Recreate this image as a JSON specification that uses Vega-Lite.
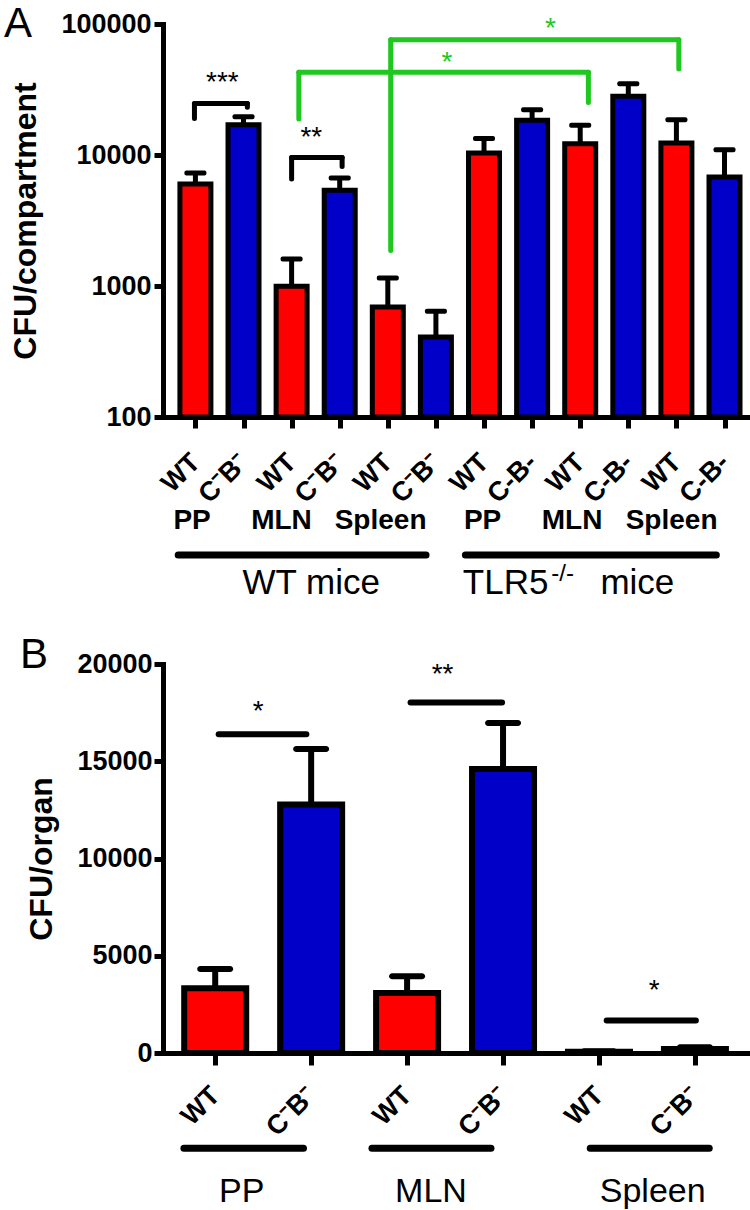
{
  "$schema": "https://vega.github.io/schema/vega-lite/v6.json",
  "background": "white",
  "padding": {"left": 3, "top": 3, "right": 0, "bottom": 0},
  "spacing": 33,
  "config": {
    "view": {"stroke": null},
    "font": "Liberation Sans",
    "axis": {
      "domainColor": "black", "domainWidth": 5, "domainCap": "square",
      "tickColor": "black", "tickWidth": 5,
      "labelColor": "black", "labelFont": "Liberation Sans", "labelFontWeight": "bold",
      "titleColor": "black", "titleFont": "Liberation Sans", "titleFontWeight": "bold", "titleFontSize": 32,
      "grid": false, "labelOverlap": false
    },
    "title": {"font": "Liberation Sans", "color": "black", "fontWeight": "normal", "fontSize": 42, "anchor": "start", "frame": "bounds"}
  },
  "datasets": {
    "barsA": [
      {"pos": 1, "mice": "WT", "organ": "PP", "strain": "WT", "cfu": 6000, "upper": 7300},
      {"pos": 2, "mice": "WT", "organ": "PP", "strain": "CB", "cfu": 17000, "upper": 19600},
      {"pos": 3, "mice": "WT", "organ": "MLN", "strain": "WT", "cfu": 996, "upper": 1607},
      {"pos": 4, "mice": "WT", "organ": "MLN", "strain": "CB", "cfu": 5380, "upper": 6670},
      {"pos": 5, "mice": "WT", "organ": "Spleen", "strain": "WT", "cfu": 692, "upper": 1151},
      {"pos": 6, "mice": "WT", "organ": "Spleen", "strain": "CB", "cfu": 408, "upper": 641},
      {"pos": 7, "mice": "TLR5", "organ": "PP", "strain": "WT", "cfu": 10350, "upper": 13340},
      {"pos": 8, "mice": "TLR5", "organ": "PP", "strain": "CB", "cfu": 18400, "upper": 22200},
      {"pos": 9, "mice": "TLR5", "organ": "MLN", "strain": "WT", "cfu": 12190, "upper": 16870},
      {"pos": 10, "mice": "TLR5", "organ": "MLN", "strain": "CB", "cfu": 28040, "upper": 35000},
      {"pos": 11, "mice": "TLR5", "organ": "Spleen", "strain": "WT", "cfu": 12360, "upper": 18620},
      {"pos": 12, "mice": "TLR5", "organ": "Spleen", "strain": "CB", "cfu": 6790, "upper": 10970}
    ],
    "bracketsA": [
      {"cmp": "within", "x1": 0.98, "x2": 2.08, "y": 24700, "yl": 19000, "yr": 23100},
      {"cmp": "within", "x1": 3.0, "x2": 4.05, "y": 9570, "yl": 6560, "yr": 8170},
      {"cmp": "between", "x1": 3.15, "x2": 9.17, "y": 42760, "yl": 18800, "yr": 25200},
      {"cmp": "between", "x1": 5.06, "x2": 11.05, "y": 75900, "yl": 1866, "yr": 45300}
    ],
    "starsA": [
      {"cmp": "within", "x": 1.56, "y": 30800, "label": "***"},
      {"cmp": "within", "x": 3.41, "y": 11720, "label": "**"},
      {"cmp": "between", "x": 6.23, "y": 44000, "label": "*"},
      {"cmp": "between", "x": 8.38, "y": 79100, "label": "*"}
    ],
    "organsA": [
      {"x": 0.93, "label": "PP"},
      {"x": 2.79, "label": "MLN"},
      {"x": 4.85, "label": "Spleen"},
      {"x": 6.97, "label": "PP"},
      {"x": 8.83, "label": "MLN"},
      {"x": 10.9, "label": "Spleen"}
    ],
    "miceA": [
      {"x1": 0.642, "x2": 5.795},
      {"x1": 6.613, "x2": 11.83}
    ],
    "miceTextA": [
      {"x": 1.98, "part": "main", "label": "WT mice"},
      {"x": 6.56, "part": "main", "label": "TLR5"},
      {"x": 8.40, "part": "sup", "label": "-/-"},
      {"x": 9.42, "part": "main", "label": "mice"}
    ],
    "barsB": [
      {"pos": 1, "organ": "PP", "strain": "WT", "cfu": 3327, "upper": 4320},
      {"pos": 2, "organ": "PP", "strain": "CB", "cfu": 12770, "upper": 15630},
      {"pos": 3, "organ": "MLN", "strain": "WT", "cfu": 3085, "upper": 3943},
      {"pos": 4, "organ": "MLN", "strain": "CB", "cfu": 14600, "upper": 16970},
      {"pos": 5, "organ": "Spleen", "strain": "WT", "cfu": 60, "upper": 90},
      {"pos": 6, "organ": "Spleen", "strain": "CB", "cfu": 200, "upper": 300}
    ],
    "sigB": [
      {"x1": 1.036, "x2": 1.95, "y": 16386, "sx": 1.447, "sy": 17120, "label": "*"},
      {"x1": 3.036, "x2": 3.99, "y": 18015, "sx": 3.37, "sy": 19010, "label": "**"},
      {"x1": 5.08, "x2": 6.01, "y": 1666, "sx": 5.575, "sy": 2776, "label": "*"}
    ],
    "organsB": [
      {"x1": 0.674, "x2": 1.92, "mid": 1.277, "label": "PP"},
      {"x1": 2.634, "x2": 3.874, "mid": 3.249, "label": "MLN"},
      {"x1": 4.909, "x2": 6.149, "mid": 5.56, "label": "Spleen"}
    ]
  },
  "vconcat": [
    {
      "width": 592,
      "height": 393,
      "title": {"text": "A", "offset": -36, "dx": -6},
      "resolve": {"scale": {"color": "independent"}},
      "layer": [
        {
          "data": {"name": "barsA"},
          "mark": {"type": "bar", "width": 31, "stroke": "black", "strokeWidth": 5},
          "encoding": {
            "x": {"field": "pos", "type": "quantitative",
              "scale": {"domain": [0.43, 12.53], "nice": false, "zero": false},
              "axis": {"values": [1, 2, 3, 4, 5, 6, 7, 8, 9, 10, 11, 12],
                "labelExpr": "['WT','C⁻B⁻','WT','C⁻B⁻','WT','C⁻B⁻','WT','C-B-','WT','C-B-','WT','C-B-'][datum.value-1]",
                "labelAngle": -45, "labelAlign": "right", "labelBaseline": "middle",
                "labelPadding": 30, "labelFontSize": 27, "labelFlush": false, "tickSize": 11, "title": null}},
            "y": {"field": "cfu", "type": "quantitative",
              "scale": {"type": "log", "domain": [100, 100000], "nice": false},
              "axis": {"values": [100, 1000, 10000, 100000], "format": "d", "title": "CFU/compartment",
                "labelFontSize": 27, "labelPadding": 3, "tickSize": 9, "titlePadding": 18}},
            "y2": {"datum": 100},
            "color": {"field": "strain", "type": "nominal",
              "scale": {"domain": ["WT", "CB"], "range": ["#ff0000", "#0000c8"]}, "legend": null}
          }
        },
        {
          "data": {"name": "barsA"},
          "mark": {"type": "rule", "strokeWidth": 5, "color": "black"},
          "encoding": {
            "x": {"field": "pos", "type": "quantitative"},
            "y": {"field": "cfu", "type": "quantitative"},
            "y2": {"field": "upper"}
          }
        },
        {
          "data": {"name": "barsA"},
          "mark": {"type": "tick", "orient": "horizontal", "size": 22, "thickness": 5, "color": "black", "cornerRadius": 2, "opacity": 1},
          "encoding": {
            "x": {"field": "pos", "type": "quantitative"},
            "y": {"field": "upper", "type": "quantitative"}
          }
        },
        {
          "data": {"name": "bracketsA"},
          "mark": {"type": "rule", "strokeWidth": 5, "strokeCap": "round"},
          "encoding": {
            "x": {"field": "x1", "type": "quantitative"},
            "x2": {"field": "x2"},
            "y": {"field": "y", "type": "quantitative"},
            "color": {"field": "cmp", "type": "nominal", "scale": {"domain": ["within", "between"], "range": ["black", "#1ec81e"]}, "legend": null}
          }
        },
        {
          "data": {"name": "bracketsA"},
          "mark": {"type": "rule", "strokeWidth": 5, "strokeCap": "round"},
          "encoding": {
            "x": {"field": "x1", "type": "quantitative"},
            "y": {"field": "y", "type": "quantitative"},
            "y2": {"field": "yl"},
            "color": {"field": "cmp", "type": "nominal", "scale": {"domain": ["within", "between"], "range": ["black", "#1ec81e"]}, "legend": null}
          }
        },
        {
          "data": {"name": "bracketsA"},
          "mark": {"type": "rule", "strokeWidth": 5, "strokeCap": "round"},
          "encoding": {
            "x": {"field": "x2", "type": "quantitative"},
            "y": {"field": "y", "type": "quantitative"},
            "y2": {"field": "yr"},
            "color": {"field": "cmp", "type": "nominal", "scale": {"domain": ["within", "between"], "range": ["black", "#1ec81e"]}, "legend": null}
          }
        },
        {
          "data": {"name": "starsA"},
          "mark": {"type": "text", "fontSize": 28, "baseline": "alphabetic", "align": "center"},
          "encoding": {
            "x": {"field": "x", "type": "quantitative"},
            "y": {"field": "y", "type": "quantitative"},
            "text": {"field": "label"},
            "color": {"field": "cmp", "type": "nominal", "scale": {"domain": ["within", "between"], "range": ["black", "#1ec81e"]}, "legend": null}
          }
        },
        {
          "data": {"name": "organsA"},
          "mark": {"type": "text", "fontSize": 28, "fontWeight": "bold", "baseline": "middle", "align": "center", "color": "black"},
          "encoding": {
            "x": {"field": "x", "type": "quantitative"},
            "y": {"datum": 16.1},
            "text": {"field": "label"}
          }
        },
        {
          "data": {"name": "miceA"},
          "mark": {"type": "rule", "strokeWidth": 7, "strokeCap": "round", "color": "black"},
          "encoding": {
            "x": {"field": "x1", "type": "quantitative"},
            "x2": {"field": "x2"},
            "y": {"datum": 8.85}
          }
        },
        {
          "data": {"name": "miceTextA"},
          "transform": [{"filter": "datum.part == 'main'"}],
          "mark": {"type": "text", "fontSize": 35, "baseline": "alphabetic", "align": "left", "color": "black"},
          "encoding": {
            "x": {"field": "x", "type": "quantitative"},
            "y": {"datum": 4.46},
            "text": {"field": "label"}
          }
        },
        {
          "data": {"name": "miceTextA"},
          "transform": [{"filter": "datum.part == 'sup'"}],
          "mark": {"type": "text", "fontSize": 24, "baseline": "alphabetic", "align": "left", "color": "black"},
          "encoding": {
            "x": {"field": "x", "type": "quantitative"},
            "y": {"datum": 5.6},
            "text": {"field": "label"}
          }
        }
      ]
    },
    {
      "width": 592,
      "height": 389,
      "title": {"text": "B", "offset": -27, "dx": -6},
      "layer": [
        {
          "data": {"name": "barsB"},
          "mark": {"type": "bar", "width": 62, "stroke": "black", "strokeWidth": 6},
          "encoding": {
            "x": {"field": "pos", "type": "quantitative",
              "scale": {"domain": [0.508, 6.574], "nice": false, "zero": false},
              "axis": {"values": [1, 2, 3, 4, 5, 6],
                "labelExpr": "['WT','C⁻B⁻','WT','C⁻B⁻','WT','C⁻B⁻'][datum.value-1]",
                "labelAngle": -45, "labelAlign": "right", "labelBaseline": "middle",
                "labelPadding": 26, "labelFontSize": 27, "labelFlush": false, "tickSize": 12, "title": null}},
            "y": {"field": "cfu", "type": "quantitative",
              "scale": {"domain": [0, 20000], "nice": false},
              "axis": {"values": [0, 5000, 10000, 15000, 20000], "format": "d", "title": "CFU/organ",
                "labelFontSize": 27, "labelPadding": 2, "tickSize": 9, "titlePadding": 18}},
            "color": {"field": "strain", "type": "nominal",
              "scale": {"domain": ["WT", "CB"], "range": ["#ff0000", "#0000c8"]}, "legend": null}
          }
        },
        {
          "data": {"name": "barsB"},
          "mark": {"type": "rule", "strokeWidth": 6, "color": "black"},
          "encoding": {
            "x": {"field": "pos", "type": "quantitative"},
            "y": {"field": "cfu", "type": "quantitative"},
            "y2": {"field": "upper"}
          }
        },
        {
          "data": {"name": "barsB"},
          "mark": {"type": "tick", "orient": "horizontal", "size": 36, "thickness": 6, "color": "black", "cornerRadius": 3, "opacity": 1},
          "encoding": {
            "x": {"field": "pos", "type": "quantitative"},
            "y": {"field": "upper", "type": "quantitative"}
          }
        },
        {
          "data": {"name": "sigB"},
          "mark": {"type": "rule", "strokeWidth": 6, "strokeCap": "round", "color": "black"},
          "encoding": {
            "x": {"field": "x1", "type": "quantitative"},
            "x2": {"field": "x2"},
            "y": {"field": "y", "type": "quantitative"}
          }
        },
        {
          "data": {"name": "sigB"},
          "mark": {"type": "text", "fontSize": 28, "baseline": "alphabetic", "align": "center", "color": "black"},
          "encoding": {
            "x": {"field": "sx", "type": "quantitative"},
            "y": {"field": "sy", "type": "quantitative"},
            "text": {"field": "label"}
          }
        },
        {
          "data": {"name": "organsB"},
          "mark": {"type": "rule", "strokeWidth": 7, "strokeCap": "round", "color": "black"},
          "encoding": {
            "x": {"field": "x1", "type": "quantitative"},
            "x2": {"field": "x2"},
            "y": {"datum": -4900}
          }
        },
        {
          "data": {"name": "organsB"},
          "mark": {"type": "text", "fontSize": 34, "baseline": "middle", "align": "center", "color": "black"},
          "encoding": {
            "x": {"field": "mid", "type": "quantitative"},
            "y": {"datum": -7150},
            "text": {"field": "label"}
          }
        }
      ]
    }
  ]
}
